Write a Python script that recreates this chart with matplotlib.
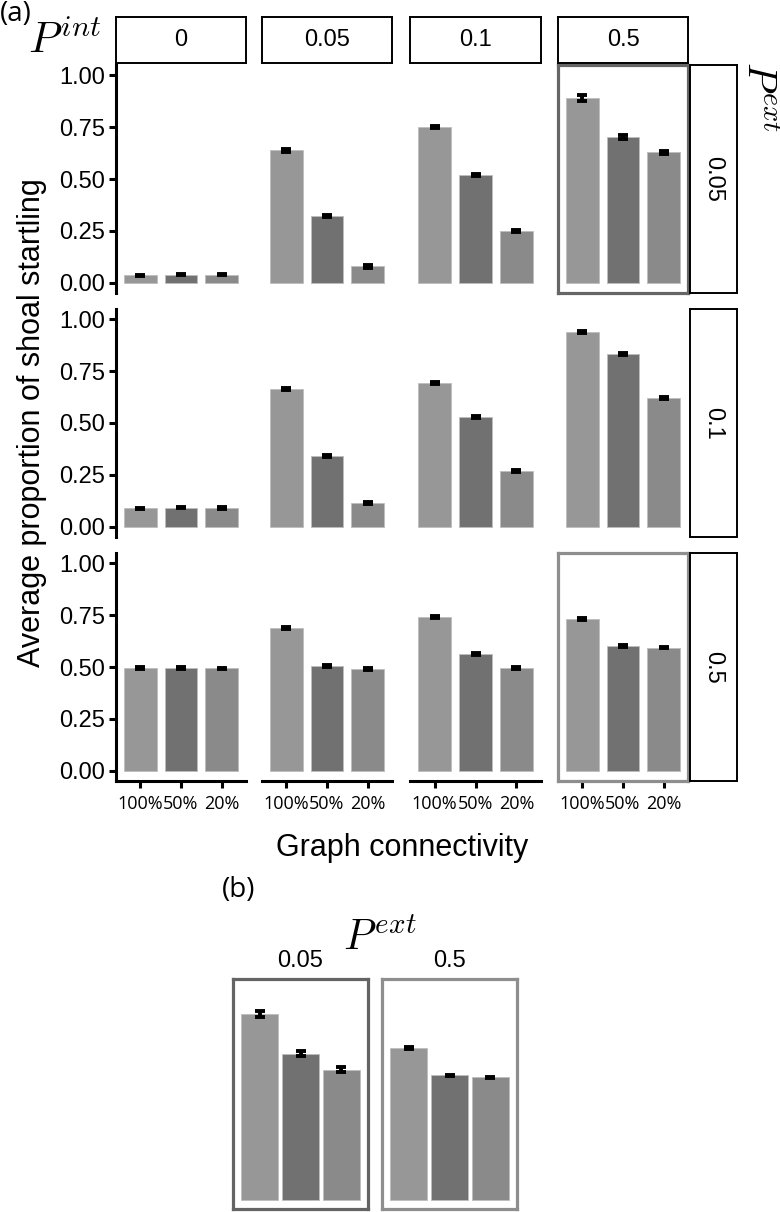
import matplotlib

matplotlib.use("Agg")

import matplotlib.pyplot as plt

plt.rcParams["font.family"] = ["Liberation Sans", "DejaVu Sans"]
plt.rcParams["mathtext.fontset"] = "cm"

W, H = 780, 1212

p_int = ["0", "0.05", "0.1", "0.5"]
p_ext = ["0.05", "0.1", "0.5"]
connectivity = ["100%", "50%", "20%"]

# mean proportion of shoal startling, one list per P_int column
means_ext005 = [[0.036, 0.038, 0.038], [0.638, 0.322, 0.078], [0.750, 0.518, 0.251], [0.890, 0.704, 0.628]]
means_ext01 = [[0.088, 0.092, 0.091], [0.663, 0.339, 0.114], [0.695, 0.528, 0.270], [0.938, 0.835, 0.620]]
means_ext05 = [[0.495, 0.496, 0.493], [0.687, 0.505, 0.490], [0.741, 0.562, 0.496], [0.732, 0.602, 0.594]]

err_ext005 = [[0.003, 0.003, 0.003], [0.008, 0.006, 0.005], [0.005, 0.005, 0.005], [0.014, 0.010, 0.006]]
err_ext01 = [[0.004, 0.004, 0.004], [0.005, 0.005, 0.005], [0.005, 0.005, 0.005], [0.004, 0.005, 0.006]]
err_ext05 = [[0.004, 0.004, 0.004], [0.004, 0.004, 0.004], [0.004, 0.004, 0.004], [0.005, 0.004, 0.004]]

# panel (b): P_int = 0.5
b_labels = ["0.05", "0.5"]
b_means = [[0.888, 0.700, 0.624], [0.725, 0.596, 0.586]]
b_err = [[0.015, 0.011, 0.011], [0.005, 0.004, 0.004]]

bar_colors = ["#979797", "#717171", "#8a8a8a"]

col_x = [(116, 246), (262, 392), (410, 541), (558, 688)]
row_y = [(65, 293), (309, 537), (553, 781)]
highlight = {(0, 3): "#666666", (2, 3): "#8e8e8e"}


def px_box(x0, y0, x1, y1):
    return [x0 / W, 1 - y1 / H, (x1 - x0) / W, (y1 - y0) / H]


def draw_bars(ax, vals, errs, width):
    xs = list(range(len(vals)))
    ax.bar(xs, vals, width=width, color=bar_colors, edgecolor="#bdbdbd", linewidth=0.6, zorder=2)
    ax.errorbar(xs, vals, yerr=errs, fmt="none", ecolor="black", elinewidth=2.8,
                capsize=3.6, capthick=2.8, zorder=3)


def strip(fig, box, label, rotation=0):
    sax = fig.add_axes(px_box(*box))
    sax.set_xticks([])
    sax.set_yticks([])
    for sp in sax.spines.values():
        sp.set_linewidth(1.4)
        sp.set_color("black")
    sax.text(0.5, 0.5, label, ha="center", va="center", rotation=rotation,
             fontsize=17, transform=sax.transAxes)


fig = plt.figure(figsize=(W / 100, H / 100), dpi=100)
fig.patch.set_facecolor("white")

rows = [(means_ext005, err_ext005), (means_ext01, err_ext01), (means_ext05, err_ext05)]
for r, (means, errs) in enumerate(rows):
    for c in range(4):
        ax = fig.add_axes(px_box(col_x[c][0], row_y[r][0], col_x[c][1], row_y[r][1]))
        draw_bars(ax, means[c], errs[c], 0.8)
        ax.set_xlim(-0.6, 2.6)
        ax.set_ylim(-0.05, 1.05)
        ax.set_facecolor("none")
        for sp in ax.spines.values():
            sp.set_visible(False)
        if c == 0:
            ax.spines["left"].set_visible(True)
            ax.spines["left"].set_linewidth(2.2)
            ax.set_yticks([0, 0.25, 0.5, 0.75, 1.0])
            ax.set_yticklabels(["0.00", "0.25", "0.50", "0.75", "1.00"])
            ax.tick_params(axis="y", length=5, width=2.2, labelsize=17, pad=3)
        else:
            ax.set_yticks([])
        if r == 2:
            ax.spines["bottom"].set_visible(True)
            ax.spines["bottom"].set_linewidth(2.2)
            ax.set_xticks(range(3))
            ax.set_xticklabels(connectivity, family=["Open Sans", "DejaVu Sans"], fontsize=13)
            ax.tick_params(axis="x", length=5, width=2.2, pad=5, color="black")
        else:
            ax.set_xticks([])
        if (r, c) in highlight:
            for sp in ax.spines.values():
                sp.set_visible(True)
                sp.set_color(highlight[(r, c)])
                sp.set_linewidth(2.3)

for c in range(4):
    strip(fig, (col_x[c][0], 17, col_x[c][1], 63), p_int[c])
for r in range(3):
    strip(fig, (690, row_y[r][0], 737, row_y[r][1]), p_ext[r], rotation=-90)

fig.text(0 / W, 1 - 0 / H, "(a)", ha="left", va="top", fontsize=20,
         family=["Open Sans", "DejaVu Sans"])
fig.text(28 / W, 1 - 53 / H, r"$P^{int}$", ha="left", va="baseline", fontsize=31)
fig.text(739 / W, 1 - 97 / H, r"$P^{ext}$", ha="left", va="center", fontsize=29, rotation=-90)
fig.text(32 / W, 1 - 423 / H, "Average proportion of shoal startling", ha="center", va="center",
         rotation=90, fontsize=22)
fig.text(402 / W, 1 - 848 / H, "Graph connectivity", ha="center", va="center", fontsize=22)

# panel (b)
fig.text(222 / W, 1 - 876 / H, "(b)", ha="left", va="top", fontsize=20,
         family=["Open Sans", "DejaVu Sans"])
fig.text(380 / W, 1 - 950 / H, r"$P^{ext}$", ha="center", va="baseline", fontsize=30)
b_x = [(233, 368), (382, 517)]
b_colors = ["#646464", "#8e8e8e"]
for i in range(2):
    ax = fig.add_axes(px_box(b_x[i][0], 979, b_x[i][1], 1209))
    draw_bars(ax, b_means[i], b_err[i], 0.9)
    ax.set_xlim(-0.65, 2.65)
    ax.set_ylim(-0.043, 1.057)
    ax.set_xticks([])
    ax.set_yticks([])
    for sp in ax.spines.values():
        sp.set_color(b_colors[i])
        sp.set_linewidth(2.3)
    fig.text((b_x[i][0] + b_x[i][1]) / 2 / W, 1 - 961 / H, b_labels[i], ha="center", va="center",
             fontsize=17)

fig.savefig("out.png", dpi=100, facecolor="white")
